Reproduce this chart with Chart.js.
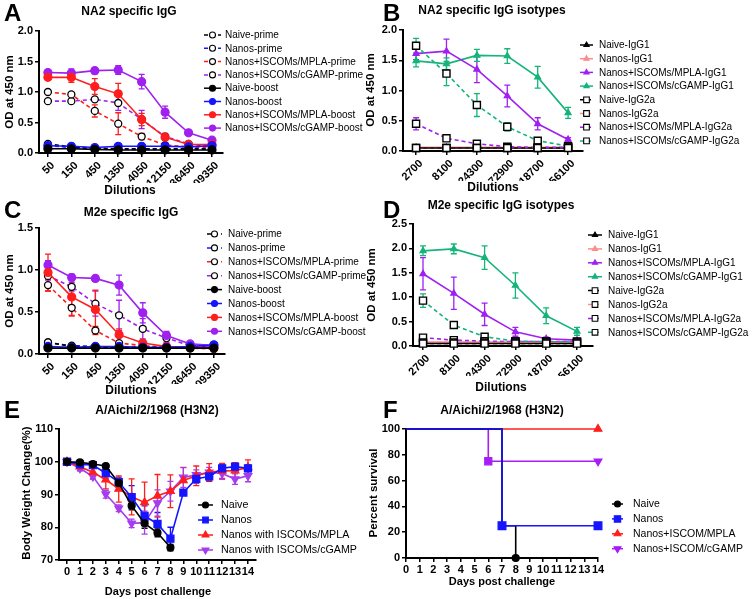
<!DOCTYPE html>
<html><head><meta charset="utf-8">
<script src="https://cdn.jsdelivr.net/npm/chart.js@4.4.1/dist/chart.umd.min.js"></script>
<style>
html,body{margin:0;padding:0;background:#fff;}
#wrap{position:relative;width:753px;height:599px;overflow:hidden;background:#fff;}
canvas{position:absolute;left:0;top:0;}
</style></head><body>
<div id="wrap">
<canvas id="cA" width="753" height="599"></canvas>
<canvas id="cB" width="753" height="599"></canvas>
<canvas id="cC" width="753" height="599"></canvas>
<canvas id="cD" width="753" height="599"></canvas>
<canvas id="cE" width="753" height="599"></canvas>
<canvas id="cF" width="753" height="599"></canvas>
</div>
<script>
// ---------------- DATA ----------------
const dilutionsIgG = ['50','150','450','1350','4050','12150','36450','109350'];
const dilutionsIso = ['2700','8100','24300','72900','218700','656100'];
const days = [0,1,2,3,4,5,6,7,8,9,10,11,12,13,14];
const daysNaive = [0,1,2,3,4,5,6,7,8];

// A: NA2 specific IgG
const naNaivePrime = [0.15,0.10,0.08,0.07,0.07,0.07,0.07,0.07];
const naNanosPrime = [0.12,0.09,0.07,0.06,0.06,0.06,0.06,0.06];
const naMplaPrime  = [1.00,0.96,0.69,0.48,0.27,0.13,0.10,0.09];
const naCgampPrime = [0.85,0.85,0.88,0.82,0.55,0.27,0.15,0.10];
const naNaiveBoost = [0.07,0.07,0.06,0.05,0.05,0.05,0.05,0.05];
const naNanosBoost = [0.12,0.11,0.09,0.11,0.11,0.11,0.10,0.12];
const naMplaBoost  = [1.24,1.24,1.09,0.97,0.55,0.26,0.14,0.14];
const naCgampBoost = [1.32,1.31,1.35,1.36,1.17,0.67,0.33,0.21];
const naMplaPrimeErr  = [0.03,0.03,0.10,0.18,0.05,0.03,0.02,0.02];
const naCgampPrimeErr = [0.02,0.02,0.03,0.12,0.15,0.05,0.02,0.02];
const naMplaBoostErr  = [0.03,0.08,0.13,0.17,0.10,0.05,0.02,0.02];
const naCgampBoostErr = [0.03,0.07,0.05,0.07,0.12,0.10,0.03,0.02];

// B: NA2 specific IgG isotypes
const nbNaiveG1  = [0.05,0.05,0.05,0.05,0.05,0.05];
const nbNanosG1  = [0.06,0.06,0.06,0.06,0.06,0.06];
const nbMplaG1   = [1.61,1.65,1.35,0.91,0.45,0.19];
const nbCgampG1  = [1.49,1.44,1.58,1.57,1.22,0.63];
const nbNaiveG2a = [0.05,0.05,0.05,0.05,0.05,0.05];
const nbNanosG2a = [0.05,0.05,0.05,0.05,0.05,0.06];
const nbMplaG2a  = [0.45,0.21,0.12,0.07,0.06,0.06];
const nbCgampG2a = [1.74,1.28,0.76,0.40,0.17,0.08];
const nbMplaG1Err   = [0.10,0.20,0.22,0.18,0.10,0.03];
const nbCgampG1Err  = [0.10,0.10,0.10,0.12,0.18,0.09];
const nbMplaG2aErr  = [0.10,0.03,0.02,0.01,0.01,0.01];
const nbCgampG2aErr = [0.12,0.20,0.19,0.07,0.03,0.02];

// C: M2e specific IgG
const mcNaivePrime = [0.14,0.09,0.08,0.08,0.08,0.07,0.07,0.07];
const mcNanosPrime = [0.13,0.10,0.09,0.08,0.08,0.08,0.08,0.10];
const mcMplaPrime  = [0.82,0.55,0.28,0.13,0.10,0.08,0.07,0.06];
const mcCgampPrime = [0.93,0.80,0.60,0.46,0.30,0.19,0.10,0.09];
const mcNaiveBoost = [0.07,0.07,0.07,0.07,0.07,0.07,0.07,0.07];
const mcNanosBoost = [0.09,0.08,0.09,0.09,0.08,0.08,0.09,0.11];
const mcMplaBoost  = [0.97,0.68,0.53,0.23,0.13,0.09,0.08,0.07];
const mcCgampBoost = [1.06,0.91,0.90,0.82,0.49,0.22,0.12,0.10];
const mcMplaPrimeErr  = [0.07,0.10,0.05,0.02,0.01,0.01,0.01,0.01];
const mcCgampPrimeErr = [0.05,0.05,0.15,0.18,0.12,0.05,0.02,0.02];
const mcMplaBoostErr  = [0.22,0.22,0.23,0.07,0.03,0.02,0.01,0.01];
const mcCgampBoostErr = [0.05,0.04,0.03,0.12,0.12,0.05,0.02,0.02];

// D: M2e specific IgG isotypes
const mdNaiveG1  = [0.05,0.05,0.05,0.05,0.05,0.05];
const mdNanosG1  = [0.08,0.08,0.08,0.08,0.08,0.08];
const mdMplaG1   = [1.48,1.08,0.65,0.29,0.15,0.12];
const mdCgampG1  = [1.95,1.99,1.81,1.24,0.62,0.30];
const mdNaiveG2a = [0.05,0.05,0.05,0.05,0.05,0.05];
const mdNanosG2a = [0.07,0.07,0.07,0.07,0.07,0.07];
const mdMplaG2a  = [0.17,0.12,0.10,0.09,0.09,0.09];
const mdCgampG2a = [0.93,0.43,0.19,0.10,0.09,0.08];
const mdMplaG1Err   = [0.33,0.33,0.23,0.09,0.03,0.02];
const mdCgampG1Err  = [0.10,0.10,0.24,0.26,0.16,0.08];
const mdMplaG2aErr  = [0.04,0.01,0.01,0.01,0.01,0.01];
const mdCgampG2aErr = [0.14,0.05,0.02,0.01,0.01,0.01];

// E: body weight
const wNaive = [100,99.8,99.3,98.7,93.5,86.6,81.2,78.3,73.8];
const wNanos = [100,99.2,99.0,96.5,93.8,89.2,83.5,81.0,76.5,90.6,94.8,95.5,98.0,98.5,98.0];
const wMpla  = [100,98.5,96.8,94.5,91.7,89.3,87.6,89.6,91.0,94.3,95.7,96.8,97.2,97.3,98.3];
const wCgamp = [100,98.0,95.5,90.1,85.8,81.2,81.4,87.4,91.0,95.2,96.0,96.8,96.4,94.7,95.7];
const wNaiveErr = [0.3,0.4,0.4,0.6,1.3,1.3,1.5,1.2,1.0];
const wNanosErr = [0.3,0.5,0.6,1.5,1.5,3.5,3.0,3.5,3.5,0.8,1.3,1.5,1.3,0.8,1.0];
const wMplaErr  = [0.3,1.2,2.0,2.8,4.0,5.5,6.2,6.5,5.0,4.0,3.0,2.6,2.3,2.4,2.3];
const wCgampErr = [0.3,0.8,0.8,1.2,1.0,1.3,3.5,4.0,3.0,3.0,1.5,1.5,1.8,1.6,1.8];

// F: survival
const sDaysNaive = [0,7,8];   const sNaive = [100,25,0];
const sDaysNanos = [0,7,14];  const sNanos = [100,25,25];
const sDaysMpla  = [0,14];    const sMpla  = [100,100];
const sDaysCgamp = [0,6,14];  const sCgamp = [100,75,75];

// ---------------- STYLE / HELPERS ----------------
const FONT = '"Liberation Sans", Arial, Helvetica, sans-serif';
const COL = {black:'#000000', blue:'#1414ff', red:'#ff1e1e', purple:'#a020f0', green:'#14b47a', salmon:'#ff8c8c', ePurple:'#a63cf0'};

function ser(label, ys, color, o) {
  o = o || {};
  const xs = o.xs || ys.map((_, i) => i);
  const ds = {
    label, data: ys.map((v, i) => ({x: xs[i], y: v})),
    borderColor: color, backgroundColor: color, borderWidth: 1.6,
    borderDash: o.dash ? [4, 3] : [],
    pointStyle: 'circle', pointRadius: 3.5, pointBackgroundColor: color,
    pointBorderColor: color, pointBorderWidth: 1.2, tension: 0, clip: false, fill: false
  };
  return Object.assign(ds, o.ds || {});
}

function drawMarker(ctx, style, x, y, r, fill, stroke, lw, rot) {
  ctx.save(); ctx.translate(x, y); if (rot) ctx.rotate(rot * Math.PI / 180);
  ctx.setLineDash([]);
  ctx.beginPath();
  if (style === 'rect') { const s = r * Math.SQRT1_2; ctx.rect(-s, -s, 2 * s, 2 * s); }
  else if (style === 'triangle') {
    let a = 0; ctx.moveTo(Math.sin(a) * r, -Math.cos(a) * r);
    a += 2 * Math.PI / 3; ctx.lineTo(Math.sin(a) * r, -Math.cos(a) * r);
    a += 2 * Math.PI / 3; ctx.lineTo(Math.sin(a) * r, -Math.cos(a) * r);
    ctx.closePath();
  } else ctx.arc(0, 0, r, 0, Math.PI * 2);
  ctx.fillStyle = fill; ctx.fill();
  ctx.lineWidth = lw; ctx.strokeStyle = stroke; ctx.stroke();
  ctx.restore();
}
function pick(v) { return Array.isArray(v) ? v[v.length - 1] : v; }

const decorPlugin = {
  id: 'deco',
  beforeDatasetsDraw(chart) {
    const ctx = chart.ctx, ys = chart.scales.y;
    chart.data.datasets.forEach((ds, i) => {
      if (!ds.err) return;
      const meta = chart.getDatasetMeta(i);
      ctx.save(); ctx.setLineDash([]); ctx.strokeStyle = ds.borderColor; ctx.lineWidth = 1.3;
      meta.data.forEach((p, j) => {
        const e = ds.err[j]; if (!e) return;
        const v = ds.data[j].y;
        const yt = ys.getPixelForValue(v + e), yb = ys.getPixelForValue(Math.max(v - e, ys.min));
        ctx.beginPath();
        ctx.moveTo(p.x, yt); ctx.lineTo(p.x, yb);
        ctx.moveTo(p.x - 3, yt); ctx.lineTo(p.x + 3, yt);
        ctx.moveTo(p.x - 3, yb); ctx.lineTo(p.x + 3, yb);
        ctx.stroke();
      });
      ctx.restore();
    });
  },
  afterDraw(chart, args, opts) {
    const ctx = chart.ctx;
    ctx.save(); ctx.fillStyle = '#000';
    if (opts.letter) { ctx.font = 'bold 24px ' + FONT; ctx.textAlign = 'left'; ctx.textBaseline = 'alphabetic'; ctx.fillText(opts.letter.t, opts.letter.x, opts.letter.y); }
    if (opts.title) { ctx.font = 'bold 12px ' + FONT; ctx.textAlign = 'center'; ctx.textBaseline = 'middle'; ctx.fillText(opts.title.t, opts.title.x, opts.title.y); }
    if (opts.xtitle) { ctx.font = 'bold ' + (opts.xtitle.s || 12) + 'px ' + FONT; ctx.textAlign = 'center'; ctx.textBaseline = 'middle'; ctx.fillText(opts.xtitle.t, opts.xtitle.x, opts.xtitle.y); }
    if (opts.ytitle) {
      ctx.save(); ctx.translate(opts.ytitle.x, opts.ytitle.y); ctx.rotate(-Math.PI / 2);
      ctx.font = 'bold ' + (opts.ytitle.s || 11.5) + 'px ' + FONT; ctx.textAlign = 'center'; ctx.textBaseline = 'middle';
      ctx.fillText(opts.ytitle.t, 0, 0); ctx.restore();
    }
    if (opts.legend) {
      const L = opts.legend;
      chart.data.datasets.forEach((ds, i) => {
        const y = L.y0 + i * L.dy;
        ctx.save();
        ctx.strokeStyle = ds.borderColor; ctx.lineWidth = 1.5; ctx.setLineDash(ds.borderDash || []);
        ctx.beginPath(); ctx.moveTo(L.x0, y); ctx.lineTo(L.x1, y); ctx.stroke();
        ctx.restore();
        const st = ds.lgStyle || pick(ds.pointStyle);
        const rot = ds.lgRot != null ? ds.lgRot : (pick(ds.pointRotation) || 0);
        const r = ds.lgR || 3;
        drawMarker(ctx, st, (L.x0 + L.x1) / 2, y, r, pick(ds.pointBackgroundColor), pick(ds.pointBorderColor), 1.1, rot);
        ctx.fillStyle = '#000'; ctx.font = (L.s || 10) + 'px ' + FONT; ctx.textAlign = 'left'; ctx.textBaseline = 'middle';
        ctx.fillText(ds.label, L.tx, y + 0.5);
      });
    }
    ctx.restore();
  }
};

function makeChart(id, g, datasets, deco) {
  const W = 753, H = 599, yW = 30, xH = 30;
  const tickFont = {family: FONT, size: 11, weight: 'bold'};
  return new Chart(document.getElementById(id), {
    type: 'line',
    data: {datasets},
    options: {
      responsive: false, animation: false, devicePixelRatio: 1, events: [],
      layout: {padding: {left: g.L - yW, top: g.T, right: W - g.R, bottom: H - g.B - xH}},
      plugins: {legend: {display: false}, tooltip: {enabled: false}, deco},
      scales: {
        x: {
          type: 'linear', min: g.xmin, max: g.xmax,
          afterFit: s => { s.height = xH; },
          afterBuildTicks: s => { s.ticks = g.xticks.map(v => ({value: v})); },
          ticks: {callback: g.xlab, autoSkip: false, minRotation: g.rot, maxRotation: g.rot, color: '#000', font: tickFont,
                  padding: g.rot ? 2 : 1, labelOffset: g.rot ? 5 : 0},
          grid: {display: true, drawOnChartArea: false, drawTicks: true, tickLength: 4, color: '#000', lineWidth: 1.5},
          border: {display: true, color: '#000', width: 2}
        },
        y: {
          type: 'linear', min: g.ymin, max: g.ymax,
          afterFit: s => { s.width = yW; },
          afterBuildTicks: s => { s.ticks = g.yticks.map(v => ({value: v})); },
          ticks: {callback: g.ylab, autoSkip: false, color: '#000', font: tickFont, padding: 2},
          grid: {display: true, drawOnChartArea: false, drawTicks: true, tickLength: 4, color: '#000', lineWidth: 1.5},
          border: {display: true, color: '#000', width: 2}
        }
      }
    },
    plugins: [decorPlugin]
  });
}

const fmt1 = v => v.toFixed(1);
const fmt0 = v => String(Math.round(v));
const idxIgG = dilutionsIgG.map((_, i) => i);
const idxIso = dilutionsIso.map((_, i) => i);

// prime / boost style helpers
const primeO = (err) => ({dash: true, ds: {pointBackgroundColor: '#fff', pointBorderColor: '#000', pointRadius: 3.5, pointBorderWidth: 1.3, order: 1, err}});
const boostO = (err) => ({ds: {pointRadius: 4, order: 0, err}});
const g1O = (err) => ({ds: {pointStyle: 'triangle', pointRadius: 3.5, order: 1, err}});
const g2O = (err) => ({dash: true, ds: {pointStyle: 'rect', pointRadius: 5, pointBackgroundColor: '#fff', pointBorderColor: '#000', pointBorderWidth: 1.4, order: 0, lgR: 4, err}});

// ---------------- PANEL A ----------------
makeChart('cA',
  {L: 39, R: 223, T: 31, B: 153, xmin: -0.38, xmax: 7.47, xticks: idxIgG, xlab: v => dilutionsIgG[v], rot: 45,
   ymin: 0, ymax: 2, yticks: [0, 0.5, 1, 1.5, 2], ylab: fmt1},
  [
    ser('Naive-prime', naNaivePrime, COL.black, primeO()),
    ser('Nanos-prime', naNanosPrime, COL.blue, primeO()),
    ser('Nanos+ISCOMs/MPLA-prime', naMplaPrime, COL.red, primeO(naMplaPrimeErr)),
    ser('Nanos+ISCOMs/cGAMP-prime', naCgampPrime, COL.purple, primeO(naCgampPrimeErr)),
    ser('Naive-boost', naNaiveBoost, COL.black, boostO()),
    ser('Nanos-boost', naNanosBoost, COL.blue, boostO()),
    ser('Nanos+ISCOMs/MPLA-boost', naMplaBoost, COL.red, boostO(naMplaBoostErr)),
    ser('Nanos+ISCOMs/cGAMP-boost', naCgampBoost, COL.purple, boostO(naCgampBoostErr))
  ],
  {letter: {t: 'A', x: 4, y: 21}, title: {t: 'NA2 specific IgG', x: 129, y: 12},
   ytitle: {t: 'OD at 450 nm', x: 10, y: 92}, xtitle: {t: 'Dilutions', x: 130, y: 191},
   legend: {x0: 204, x1: 221, tx: 225, y0: 35, dy: 13.3, s: 10}});

// ---------------- PANEL B ----------------
makeChart('cB',
  {L: 403, R: 583, T: 30, B: 151, xmin: -0.43, xmax: 5.49, xticks: idxIso, xlab: v => dilutionsIso[v], rot: 45,
   ymin: 0, ymax: 2, yticks: [0, 0.5, 1, 1.5, 2], ylab: fmt1},
  [
    ser('Naive-IgG1', nbNaiveG1, COL.black, g1O()),
    ser('Nanos-IgG1', nbNanosG1, COL.salmon, g1O()),
    ser('Nanos+ISCOMs/MPLA-IgG1', nbMplaG1, COL.purple, g1O(nbMplaG1Err)),
    ser('Nanos+ISCOMs/cGAMP-IgG1', nbCgampG1, COL.green, g1O(nbCgampG1Err)),
    ser('Naive-IgG2a', nbNaiveG2a, COL.black, g2O()),
    ser('Nanos-IgG2a', nbNanosG2a, COL.salmon, g2O()),
    ser('Nanos+ISCOMs/MPLA-IgG2a', nbMplaG2a, COL.purple, g2O(nbMplaG2aErr)),
    ser('Nanos+ISCOMs/cGAMP-IgG2a', nbCgampG2a, COL.green, g2O(nbCgampG2aErr))
  ],
  {letter: {t: 'B', x: 383, y: 21}, title: {t: 'NA2 specific IgG isotypes', x: 492, y: 11},
   ytitle: {t: 'OD at 450 nm', x: 371, y: 90}, xtitle: {t: 'Dilutions', x: 493, y: 188},
   legend: {x0: 580, x1: 593, tx: 599, y0: 45, dy: 13.7, s: 10}});

// ---------------- PANEL C ----------------
makeChart('cC',
  {L: 39, R: 225, T: 228, B: 354, xmin: -0.38, xmax: 7.47, xticks: idxIgG, xlab: v => dilutionsIgG[v], rot: 45,
   ymin: 0, ymax: 1.5, yticks: [0, 0.5, 1, 1.5], ylab: fmt1},
  [
    ser('Naive-prime', mcNaivePrime, COL.black, primeO()),
    ser('Nanos-prime', mcNanosPrime, COL.blue, primeO()),
    ser('Nanos+ISCOMs/MPLA-prime', mcMplaPrime, COL.red, primeO(mcMplaPrimeErr)),
    ser('Nanos+ISCOMs/cGAMP-prime', mcCgampPrime, COL.purple, primeO(mcCgampPrimeErr)),
    ser('Naive-boost', mcNaiveBoost, COL.black, boostO()),
    ser('Nanos-boost', mcNanosBoost, COL.blue, boostO()),
    ser('Nanos+ISCOMs/MPLA-boost', mcMplaBoost, COL.red, boostO(mcMplaBoostErr)),
    ser('Nanos+ISCOMs/cGAMP-boost', mcCgampBoost, COL.purple, boostO(mcCgampBoostErr))
  ],
  {letter: {t: 'C', x: 4, y: 218}, title: {t: 'M2e specific IgG', x: 131, y: 213},
   ytitle: {t: 'OD at 450 nm', x: 10, y: 291}, xtitle: {t: 'Dilutions', x: 131, y: 391},
   legend: {x0: 207, x1: 222, tx: 228, y0: 234, dy: 13.9, s: 10}});

// ---------------- PANEL D ----------------
makeChart('cD',
  {L: 413, R: 593, T: 224, B: 346, xmin: -0.325, xmax: 5.52, xticks: idxIso, xlab: v => dilutionsIso[v], rot: 45,
   ymin: 0, ymax: 2.5, yticks: [0, 0.5, 1, 1.5, 2, 2.5], ylab: fmt1},
  [
    ser('Naive-IgG1', mdNaiveG1, COL.black, g1O()),
    ser('Nanos-IgG1', mdNanosG1, COL.salmon, g1O()),
    ser('Nanos+ISCOMs/MPLA-IgG1', mdMplaG1, COL.purple, g1O(mdMplaG1Err)),
    ser('Nanos+ISCOMs/cGAMP-IgG1', mdCgampG1, COL.green, g1O(mdCgampG1Err)),
    ser('Naive-IgG2a', mdNaiveG2a, COL.black, g2O()),
    ser('Nanos-IgG2a', mdNanosG2a, COL.salmon, g2O()),
    ser('Nanos+ISCOMs/MPLA-IgG2a', mdMplaG2a, COL.purple, g2O(mdMplaG2aErr)),
    ser('Nanos+ISCOMs/cGAMP-IgG2a', mdCgampG2a, COL.green, g2O(mdCgampG2aErr))
  ],
  {letter: {t: 'D', x: 383, y: 218}, title: {t: 'M2e specific IgG isotypes', x: 501, y: 206},
   ytitle: {t: 'OD at 450 nm', x: 372, y: 285}, xtitle: {t: 'Dilutions', x: 501, y: 388},
   legend: {x0: 588, x1: 602, tx: 608, y0: 235, dy: 13.9, s: 10}});

// ---------------- PANEL E ----------------
makeChart('cE',
  {L: 59, R: 256, T: 429, B: 560, xmin: -0.62, xmax: 14.62, xticks: days, xlab: fmt0, rot: 0,
   ymin: 70, ymax: 110, yticks: [70, 80, 90, 100, 110], ylab: fmt0},
  [
    ser('Naive', wNaive, COL.black, {xs: daysNaive, ds: {err: wNaiveErr, pointRadius: 3.5}}),
    ser('Nanos', wNanos, COL.blue, {xs: days, ds: {err: wNanosErr, pointStyle: 'rect', pointRadius: 5, lgR: 4}}),
    ser('Nanos with ISCOMs/MPLA', wMpla, COL.red, {xs: days, ds: {err: wMplaErr, pointStyle: 'triangle', pointRadius: 4.5, lgR: 4}}),
    ser('Nanos with ISCOMs/cGAMP', wCgamp, COL.ePurple, {xs: days, ds: {err: wCgampErr, pointStyle: 'triangle', pointRotation: 180, pointRadius: 4.5, lgR: 4}})
  ],
  {letter: {t: 'E', x: 4, y: 418}, title: {t: 'A/Aichi/2/1968 (H3N2)', x: 157, y: 411},
   ytitle: {t: 'Body Weight Change(%)', x: 27, y: 493, s: 11.5}, xtitle: {t: 'Days post challenge', x: 158, y: 592, s: 11},
   legend: {x0: 198, x1: 213, tx: 221, y0: 505, dy: 15, s: 10.7}});

// ---------------- PANEL F ----------------
makeChart('cF',
  {L: 406, R: 598, T: 429, B: 558, xmin: 0, xmax: 14, xticks: days, xlab: fmt0, rot: 0,
   ymin: 0, ymax: 100, yticks: [0, 20, 40, 60, 80, 100], ylab: fmt0},
  [
    ser('Naive', sNaive, COL.black, {xs: sDaysNaive, ds: {stepped: 'before', pointRadius: [0, 0, 3.5], order: 1}}),
    ser('Nanos', sNanos, COL.blue, {xs: sDaysNanos, ds: {stepped: 'before', pointStyle: 'rect', pointRadius: [0, 5.5, 5.5], lgStyle: 'rect', lgR: 4.5, order: 0}}),
    ser('Nanos+ISCOM/MPLA', sMpla, COL.red, {xs: sDaysMpla, ds: {stepped: 'before', pointStyle: 'triangle', pointRadius: [0, 4.5], lgStyle: 'triangle', lgR: 4, order: 3}}),
    ser('Nanos+ISCOM/cGAMP', sCgamp, '#a81cf5', {xs: sDaysCgamp, ds: {stepped: 'before', pointStyle: ['circle', 'rect', 'triangle'], pointRotation: [0, 0, 180], pointRadius: [0, 5, 4.5], lgStyle: 'triangle', lgRot: 180, lgR: 4, order: 2}})
  ],
  {letter: {t: 'F', x: 383, y: 418}, title: {t: 'A/Aichi/2/1968 (H3N2)', x: 502, y: 411},
   ytitle: {t: 'Percent survival', x: 374, y: 493, s: 11.5}, xtitle: {t: 'Days post challenge', x: 502, y: 582, s: 11},
   legend: {x0: 612, x1: 623, tx: 633, y0: 504, dy: 14.9, s: 10.5}});
</script>
</body></html>
